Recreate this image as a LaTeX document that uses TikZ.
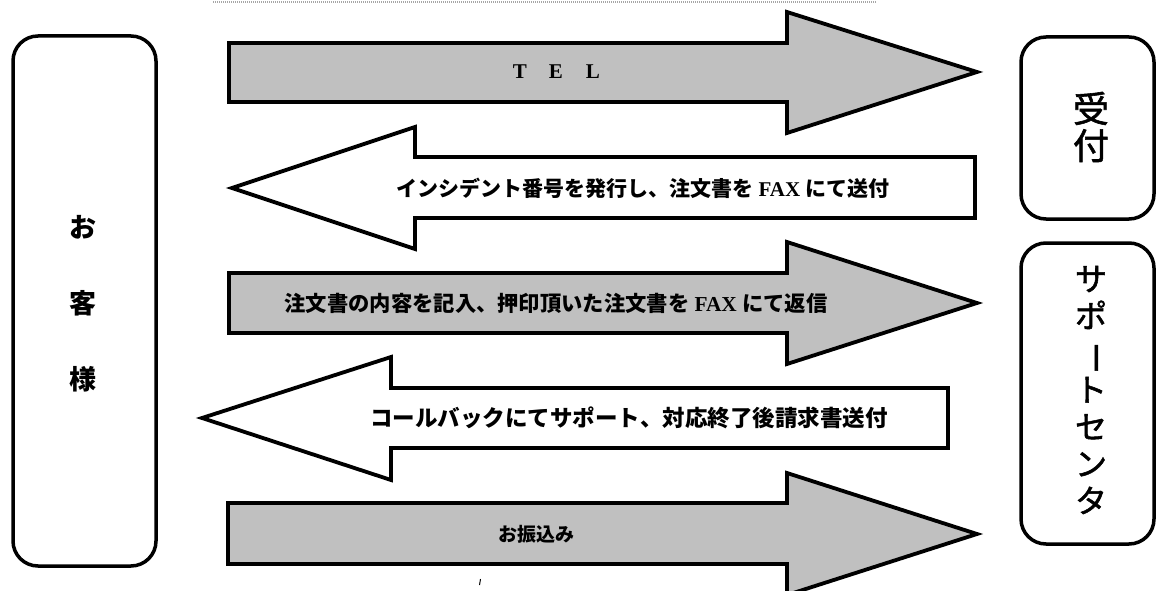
\documentclass[tikz,border=0pt]{standalone}
\usepackage{fontspec}
\setmainfont{Liberation Serif}
\newfontfamily\jp{Noto Sans CJK JP}
\newfontfamily\jpm{Noto Sans CJK JP}[BoldFont={Noto Sans CJK JP}, BoldFeatures={FakeBold=1.6}]
\definecolor{arrowgray}{HTML}{C0C0C0}
\begin{document}
\begin{tikzpicture}[x=1pt,y=-1pt,
  frame/.style={draw, line width=3.5pt, rounded corners=25pt, inner sep=0pt},
  arrowshape/.style={draw, line width=3.8pt, line join=miter},
  grayarrow/.style={arrowshape, fill=arrowgray},
  whitearrow/.style={arrowshape, fill=white},
  lbl/.style={inner sep=0pt, font=\fontsize{21}{24}\selectfont\bfseries},
  bigv/.style={inner sep=0pt, align=center}]
\useasboundingbox (0,0) rectangle (1159,591);
% top dotted rule
\draw[gray!70, line width=1.5pt, dash pattern=on 1pt off 1pt] (213,2) -- (876,2);
% boxes
\node[frame, minimum width=143pt, minimum height=530pt] (cust) at (84.5,301) {};
\node[frame, minimum width=133pt, minimum height=182pt] (uketsuke) at (1087.5,128) {};
\node[frame, minimum width=133pt, minimum height=301pt] (support) at (1087.5,393.5) {};
% box labels
\node[bigv, font=\jp\bfseries\fontsize{27}{30}\selectfont] (o) at (83,227) {お};
\node[bigv, font=\jp\bfseries\fontsize{27}{30}\selectfont] (kyaku) at (83,303) {客};
\node[bigv, font=\jp\bfseries\fontsize{27}{30}\selectfont] (sama) at (83,379) {様};
\node[bigv, font=\jpm\bfseries\fontsize{36}{37}\selectfont] (uketext) at (1091,127) {受\\付};
\node[bigv, font=\jpm\bfseries\fontsize{32}{37}\selectfont] (suptext) at (1091,390) {サ\\ポ\\\rotatebox[origin=c]{-90}{ー}\\ト\\セ\\ン\\タ};
% arrow 1 (right, gray)
\draw[grayarrow] (229,43) -- (787,43) -- (787,12) -- (977,72) -- (787,133) -- (787,102) -- (229,102) -- cycle;
\node[inner sep=0pt, font=\fontsize{21}{24}\selectfont\bfseries] (t1) at (556.5,72) {T\hspace{22pt}E\hspace{23pt}L};
% arrow 2 (left, white)
\draw[whitearrow] (975,157) -- (415,157) -- (415,127) -- (232,188) -- (415,249) -- (415,218) -- (975,218) -- cycle;
\node[lbl] (t2) at (643,188) {{\jp インシデント番号を発行し、注文書を}\ FAX\ {\jp にて送付}};
% arrow 3 (right, gray)
\draw[grayarrow] (229,273) -- (787,273) -- (787,242) -- (977,303) -- (787,364) -- (787,333) -- (229,333) -- cycle;
\node[lbl, font=\fontsize{21.3}{24}\selectfont\bfseries] (t3) at (556,303) {{\jp 注文書の内容を記入、押印頂いた注文書を}\ FAX\ {\jp にて返信}};
% arrow 4 (left, white)
\draw[whitearrow] (948,388) -- (391,388) -- (391,357) -- (202,418) -- (391,480) -- (391,448) -- (948,448) -- cycle;
\node[lbl, font=\fontsize{22.5}{24}\selectfont\bfseries] (t4) at (629,418) {\jp コールバックにてサポート、対応終了後請求書送付};
% arrow 5 (right, gray)
\draw[grayarrow] (228,503) -- (787,503) -- (787,473) -- (977,534) -- (787,595) -- (787,564) -- (228,564) -- cycle;
\node[lbl, font=\fontsize{19}{22}\selectfont\bfseries] (t5) at (536,534) {\jp お振込み};
% stray mark
\draw[line width=1pt] (480.5,579) -- (479.5,585);
\end{tikzpicture}
\end{document}
